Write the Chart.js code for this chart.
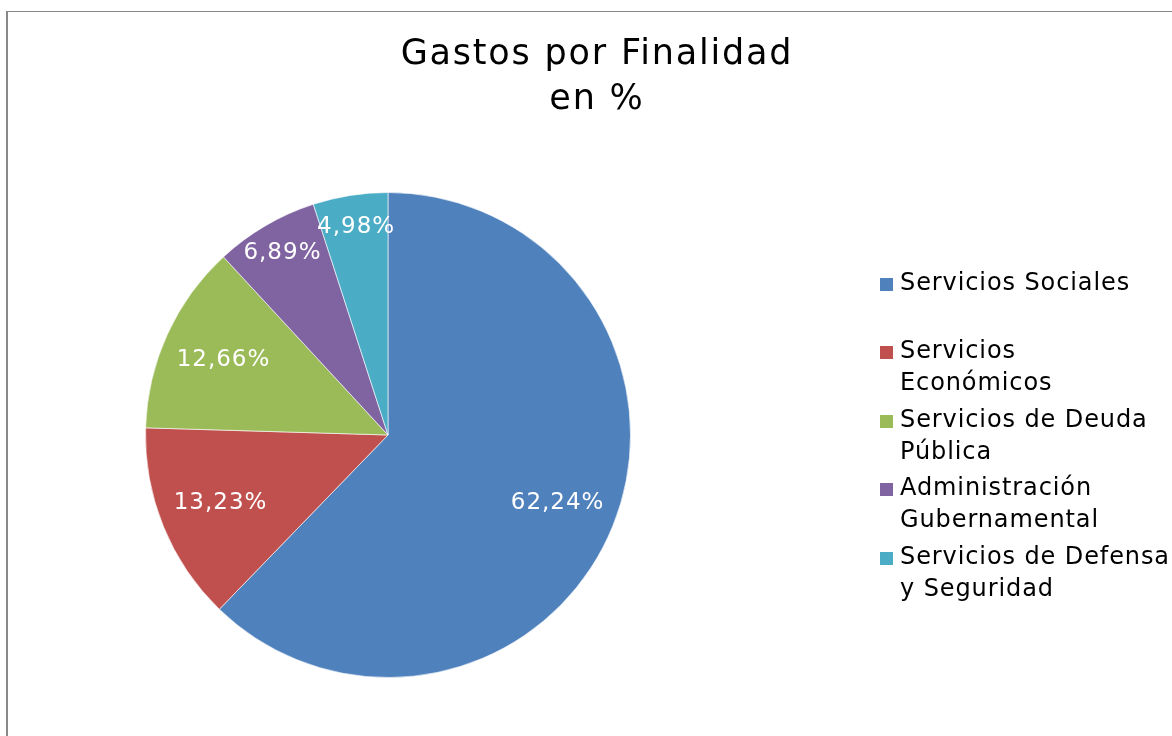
<!DOCTYPE html>
<html>
<head>
<meta charset="utf-8">
<script src="https://cdn.jsdelivr.net/npm/chart.js@4"></script>
<style>
  html, body { margin: 0; padding: 0; background: #fff; }
  #wrap { width: 1172px; height: 736px; position: relative; }
</style>
</head>
<body>
<div id="wrap"><canvas id="pieChart"></canvas></div>
<script>
// chart data
var categories = [
    ['Servicios Sociales'],
    ['Servicios', 'Económicos'],
    ['Servicios de Deuda', 'Pública'],
    ['Administración', 'Gubernamental'],
    ['Servicios de Defensa', 'y Seguridad']
];
var percentages = [62.24, 13.23, 12.66, 6.89, 4.98];
var valueLabels = ['62,24%', '13,23%', '12,66%', '6,89%', '4,98%'];
var titleLines = ['Gastos por Finalidad', 'en %'];

var colors = ['#4F81BD', '#C0504D', '#9BBB59', '#8064A2', '#4BACC6'];
var fontFamily = '"DejaVu Sans", sans-serif';

// frame, title, slice labels and legend
var decorPlugin = {
    id: 'decor',
    beforeDraw: function (chart) {
        var c = chart.ctx;
        c.save();
        c.fillStyle = '#ffffff';
        c.fillRect(0, 0, chart.width, chart.height);
        c.fillStyle = '#888888';
        c.fillRect(6, 11, 2, chart.height - 11);
        c.fillRect(6, 11, chart.width - 6, 1);
        c.restore();
    },
    afterDraw: function (chart) {
        var c = chart.ctx;
        c.save();

        // title
        c.fillStyle = '#000000';
        c.textAlign = 'center';
        c.textBaseline = 'middle';
        c.font = '35px ' + fontFamily;
        c.letterSpacing = '1.8px';
        titleLines.forEach(function (t, i) {
            c.fillText(t, 597, 55 + i * 45);
        });

        // labels inside slices
        var meta = chart.getDatasetMeta(0);
        c.fillStyle = '#ffffff';
        c.font = '23px ' + fontFamily;
        c.letterSpacing = '1px';
        meta.data.forEach(function (arc, i) {
            var mid = (arc.startAngle + arc.endAngle) / 2;
            var frac = percentages[i] < 8 ? 0.87 : 0.75;
            var r = arc.outerRadius * frac;
            c.fillText(valueLabels[i], arc.x + Math.cos(mid) * r + 1, arc.y + Math.sin(mid) * r);
        });

        // legend
        var tops = [284, 352, 421, 489, 558];
        c.textAlign = 'left';
        c.font = '24px ' + fontFamily;
        c.letterSpacing = '0.9px';
        categories.forEach(function (lines, i) {
            c.fillStyle = colors[i];
            c.fillRect(880, tops[i] - 6, 13, 13);
            c.fillStyle = '#000000';
            lines.forEach(function (line, j) {
                c.fillText(line, 900, tops[i] + j * 31.5);
            });
        });
        c.restore();
    }
};

var ctx = document.getElementById('pieChart').getContext('2d');
var pieChart = new Chart(ctx, {
    type: 'pie',
    data: {
        labels: categories,
        datasets: [{
            data: percentages,
            backgroundColor: colors,
            borderColor: 'rgba(255, 255, 255, 0.6)',
            borderWidth: 1
        }]
    },
    options: {
        responsive: true,
        maintainAspectRatio: false,
        animation: false,
        layout: {
            padding: { left: 145, right: 541, top: 192, bottom: 58 }
        },
        plugins: {
            legend: { display: false },
            title: { display: false },
            tooltip: { enabled: false }
        }
    },
    plugins: [decorPlugin]
});
</script>
</body>
</html>
